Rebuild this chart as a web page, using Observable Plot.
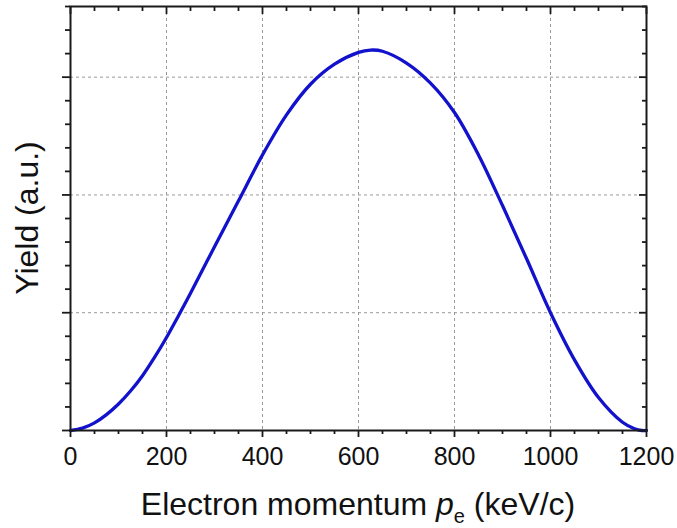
<!DOCTYPE html>
<html>
<head>
<meta charset="utf-8">
<script src="https://cdn.jsdelivr.net/npm/d3@7"></script>
<script src="https://cdn.jsdelivr.net/npm/@observablehq/plot@0.6"></script>
<style>
  html, body { margin: 0; padding: 0; background: #fff; }
  #chart { width: 677px; height: 528px; }
</style>
</head>
<body>
<div id="chart"></div>
<script>
// Electron momentum (keV/c)
const momentum = [0, 25, 50, 75, 100, 125, 150, 175, 200, 225, 250, 300, 350, 400, 450, 500, 550, 600, 625, 650, 700, 750, 800, 850, 900, 950, 1000, 1050, 1100, 1150, 1175, 1190, 1200];
// Yield (a.u.)
const yieldValues = [0, 0.02, 0.065, 0.135, 0.225, 0.335, 0.465, 0.62, 0.79, 0.975, 1.165, 1.56, 1.95, 2.34, 2.68, 2.94, 3.11, 3.21, 3.23, 3.22, 3.12, 2.95, 2.70, 2.34, 1.91, 1.46, 1.0, 0.60, 0.28, 0.07, 0.015, 0, 0];

const xMajorTicks = [0, 200, 400, 600, 800, 1000, 1200];
const xMinorTicks = d3.range(0, 1201, 50).filter(v => v % 200 !== 0);
const yMajorTicks = [0, 1, 2, 3];
const yMinorTicks = d3.range(0, 3.61, 0.2).map(v => +v.toFixed(1)).filter(v => !Number.isInteger(v));
const yGridTicks = [1, 2, 3];
const xGridTicks = [200, 400, 600, 800, 1000];

const xLabelMain = "Electron momentum ";
const xLabelVar = "p";
const xLabelSub = "e";
const xLabelUnit = " (keV/c)";
const yLabel = "Yield (a.u.)";

const data = momentum.map((m, i) => ({m, y: yieldValues[i]}));

const font = "'Liberation Sans', Arial, Helvetica, sans-serif";
const tickStroke = "#1a1a1a";

const chart = Plot.plot({
  width: 677,
  height: 528,
  marginLeft: 70,
  marginRight: 31,
  marginTop: 6,
  marginBottom: 98,
  style: {fontFamily: font, fontSize: "25px", color: "#111", background: "#fff"},
  x: {domain: [0, 1200]},
  y: {domain: [0, 3.6]},
  marks: [
    Plot.gridX(xGridTicks, {stroke: "#999", strokeOpacity: 1, strokeDasharray: "3,3", strokeWidth: 1}),
    Plot.gridY(yGridTicks, {stroke: "#999", strokeOpacity: 1, strokeDasharray: "3,3", strokeWidth: 1}),
    Plot.line(data, {x: "m", y: "y", stroke: "#1212cc", strokeWidth: 3.3, curve: "catmull-rom"}),
    Plot.axisX(xMajorTicks, {anchor: "bottom", tickSize: 7, tickPadding: 10, fontSize: 25, label: null, stroke: tickStroke, strokeWidth: 1.8, tickFormat: d => String(d)}),
    Plot.axisX(xMinorTicks, {anchor: "bottom", tickSize: 4, fill: "none", label: null, stroke: tickStroke, strokeWidth: 1.8}),
    Plot.axisX(xMajorTicks, {anchor: "top", tickSize: 7, dy: 7, fill: "none", label: null, stroke: tickStroke, strokeWidth: 1.8}),
    Plot.axisX(xMinorTicks, {anchor: "top", tickSize: 4, dy: 4, fill: "none", label: null, stroke: tickStroke, strokeWidth: 1.8}),
    Plot.axisY(yMajorTicks, {anchor: "left", tickSize: 8, fill: "none", label: null, stroke: tickStroke, strokeWidth: 1.8}),
    Plot.axisY(yMinorTicks, {anchor: "left", tickSize: 5, fill: "none", label: null, stroke: tickStroke, strokeWidth: 1.8}),
    Plot.axisY(yMajorTicks, {anchor: "right", tickSize: 8, dx: -8, fill: "none", label: null, stroke: tickStroke, strokeWidth: 1.8}),
    Plot.axisY(yMinorTicks, {anchor: "right", tickSize: 5, dx: -5, fill: "none", label: null, stroke: tickStroke, strokeWidth: 1.8}),
    Plot.frame({stroke: tickStroke, strokeWidth: 2})
  ]
});

document.getElementById("chart").appendChild(chart);

// Axis titles with italic variable and subscript
const xs = chart.scale("x"), ys = chart.scale("y");
const xCenter = (xs.range[0] + xs.range[1]) / 2;
const yCenter = (ys.range[0] + ys.range[1]) / 2;
const svg = d3.select(chart);

const xt = svg.append("text")
  .attr("x", xCenter)
  .attr("y", ys.range[0] + 85)
  .attr("text-anchor", "middle")
  .attr("fill", "#111")
  .style("font-family", font)
  .style("font-size", "32px");
xt.append("tspan").text(xLabelMain);
xt.append("tspan").style("font-style", "italic").text(xLabelVar);
xt.append("tspan").attr("dy", 8).style("font-size", "20px").text(xLabelSub);
xt.append("tspan").attr("dy", -8).text(xLabelUnit);

svg.append("text")
  .attr("transform", `translate(38,${yCenter}) rotate(-90)`)
  .attr("text-anchor", "middle")
  .attr("fill", "#111")
  .style("font-family", font)
  .style("font-size", "32px")
  .text(yLabel);
</script>
</body>
</html>
